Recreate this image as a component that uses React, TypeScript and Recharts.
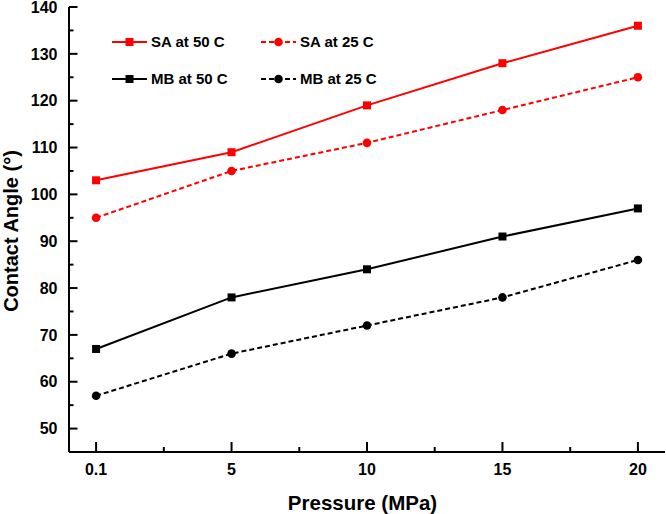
import React from 'react';
import { LineChart, Line, XAxis, YAxis, Legend, Label } from 'recharts';

const pressures = ['0.1', '5', '10', '15', '20'];
const saAt50 = [103, 109, 119, 128, 136];
const saAt25 = [95, 105, 111, 118, 125];
const mbAt50 = [67, 78, 84, 91, 97];
const mbAt25 = [57, 66, 72, 78, 86];
const yTicks = [50, 55, 60, 65, 70, 75, 80, 85, 90, 95, 100, 105, 110, 115, 120, 125, 130, 135, 140];
const xTicks = [0, 0.5, 1, 1.5, 2, 2.5, 3, 3.5, 4];

const FONT = 'Arial, "Liberation Sans", sans-serif';
const RED = '#FF0000';
const BLACK = '#000000';

const data = pressures.map((p, i) => ({
  idx: i,
  label: p,
  sa50: saAt50[i],
  sa25: saAt25[i],
  mb50: mbAt50[i],
  mb25: mbAt25[i],
}));

type Series = { key: string; name: string; color: string; dashed: boolean; shape: 'square' | 'circle' };
const series: Series[] = [
  { key: 'sa50', name: 'SA at 50 C', color: RED, dashed: false, shape: 'square' },
  { key: 'sa25', name: 'SA at 25 C', color: RED, dashed: true, shape: 'circle' },
  { key: 'mb50', name: 'MB at 50 C', color: BLACK, dashed: false, shape: 'square' },
  { key: 'mb25', name: 'MB at 25 C', color: BLACK, dashed: true, shape: 'circle' },
];

const DASH = '5 3';

function marker(shape: string, cx: number, cy: number, color: string, key?: string) {
  if (shape === 'square') {
    return <rect key={key} x={cx - 4} y={cy - 4} width={8} height={8} fill={color} stroke="none" />;
  }
  return <circle key={key} cx={cx} cy={cy} r={4.3} fill={color} stroke="none" />;
}

const XTick = (props: any) => {
  const { x, y, payload } = props;
  const v = payload.value;
  const major = Number.isInteger(v);
  return (
    <g>
      <line x1={x} x2={x} y1={y} y2={y - (major ? 10 : 5)} stroke={BLACK} strokeWidth={2} />
      {major && (
        <text x={x} y={y + 23} textAnchor="middle" fontFamily={FONT} fontWeight="bold" fontSize={16} fill={BLACK}>
          {pressures[v]}
        </text>
      )}
    </g>
  );
};

const YTick = (props: any) => {
  const { x, y, payload } = props;
  const v = payload.value;
  const major = v % 10 === 0;
  return (
    <g>
      <line x1={x} x2={x + (major ? 8.5 : 4.5)} y1={y} y2={y} stroke={BLACK} strokeWidth={2} />
      {major && (
        <text x={x - 11.5} y={y} dy="0.36em" textAnchor="end" fontFamily={FONT} fontWeight="bold" fontSize={16} fill={BLACK}>
          {v}
        </text>
      )}
    </g>
  );
};

const LegendBox = () => (
  <div style={{ position: 'relative', width: 666, height: 120 }}>
    {series.map((s, i) => {
      const col = i % 2;
      const row = Math.floor(i / 2);
      const left = 112 + col * 149;
      const cy = 42 + row * 37;
      return (
        <div
          key={s.key}
          style={{
            position: 'absolute',
            left,
            top: cy - 9,
            height: 18,
            display: 'flex',
            alignItems: 'center',
            whiteSpace: 'nowrap',
          }}
        >
          <svg width={36} height={18} style={{ display: 'block' }}>
            <line x1={0} x2={35} y1={9} y2={9} stroke={s.color} strokeWidth={2} strokeDasharray={s.dashed ? DASH : undefined} />
            {marker(s.shape, 17.5, 9, s.color)}
          </svg>
          <span
            style={{
              marginLeft: 3,
              fontFamily: FONT,
              fontWeight: 'bold',
              fontSize: 15,
              color: BLACK,
              lineHeight: '18px',
            }}
          >
            {s.name}
          </span>
        </div>
      );
    })}
  </div>
);

export default function App() {
  return (
    <div style={{ position: 'absolute', left: 0, top: 0, width: 666, height: 514, background: '#fff' }}>
      <LineChart width={666} height={514} data={data} margin={{ top: 7, right: 1, bottom: 0, left: 0 }}>
        <XAxis
          dataKey="idx"
          type="number"
          domain={[-0.2, 4.2]}
          ticks={xTicks}
          interval={0}
          height={62}
          tickSize={0}
          tickMargin={0}
          tickLine={false}
          axisLine={{ stroke: BLACK, strokeWidth: 2 }}
          tick={<XTick />}
        >
          <Label
            content={() => (
              <text x={362.5} y={510} textAnchor="middle" fontFamily={FONT} fontWeight="bold" fontSize={20.5} fill={BLACK}>
                Pressure (MPa)
              </text>
            )}
          />
        </XAxis>
        <YAxis
          type="number"
          domain={[45, 140]}
          ticks={yTicks}
          interval={0}
          width={69}
          tickSize={0}
          tickMargin={0}
          tickLine={false}
          axisLine={{ stroke: BLACK, strokeWidth: 2 }}
          tick={<YTick />}
        >
          <Label
            content={() => (
              <text
                transform="rotate(-90)"
                x={-231}
                y={17.5}
                textAnchor="middle"
                fontFamily={FONT}
                fontWeight="bold"
                fontSize={20}
                fill={BLACK}
              >
                Contact Angle (°)
              </text>
            )}
          />
        </YAxis>
        <Legend
          layout="horizontal"
          verticalAlign="middle"
          align="center"
          wrapperStyle={{ position: 'absolute', left: 0, top: 0, width: 666, height: 120 }}
          content={() => <LegendBox />}
        />
        {series.map((s) => (
          <Line
            key={s.key}
            dataKey={s.key}
            name={s.name}
            type="linear"
            stroke={s.color}
            strokeWidth={2}
            strokeDasharray={s.dashed ? DASH : undefined}
            isAnimationActive={false}
            dot={(p: any) => marker(s.shape, p.cx, p.cy, s.color, `${s.key}-${p.index}`)}
            activeDot={false}
          />
        ))}
      </LineChart>
    </div>
  );
}
